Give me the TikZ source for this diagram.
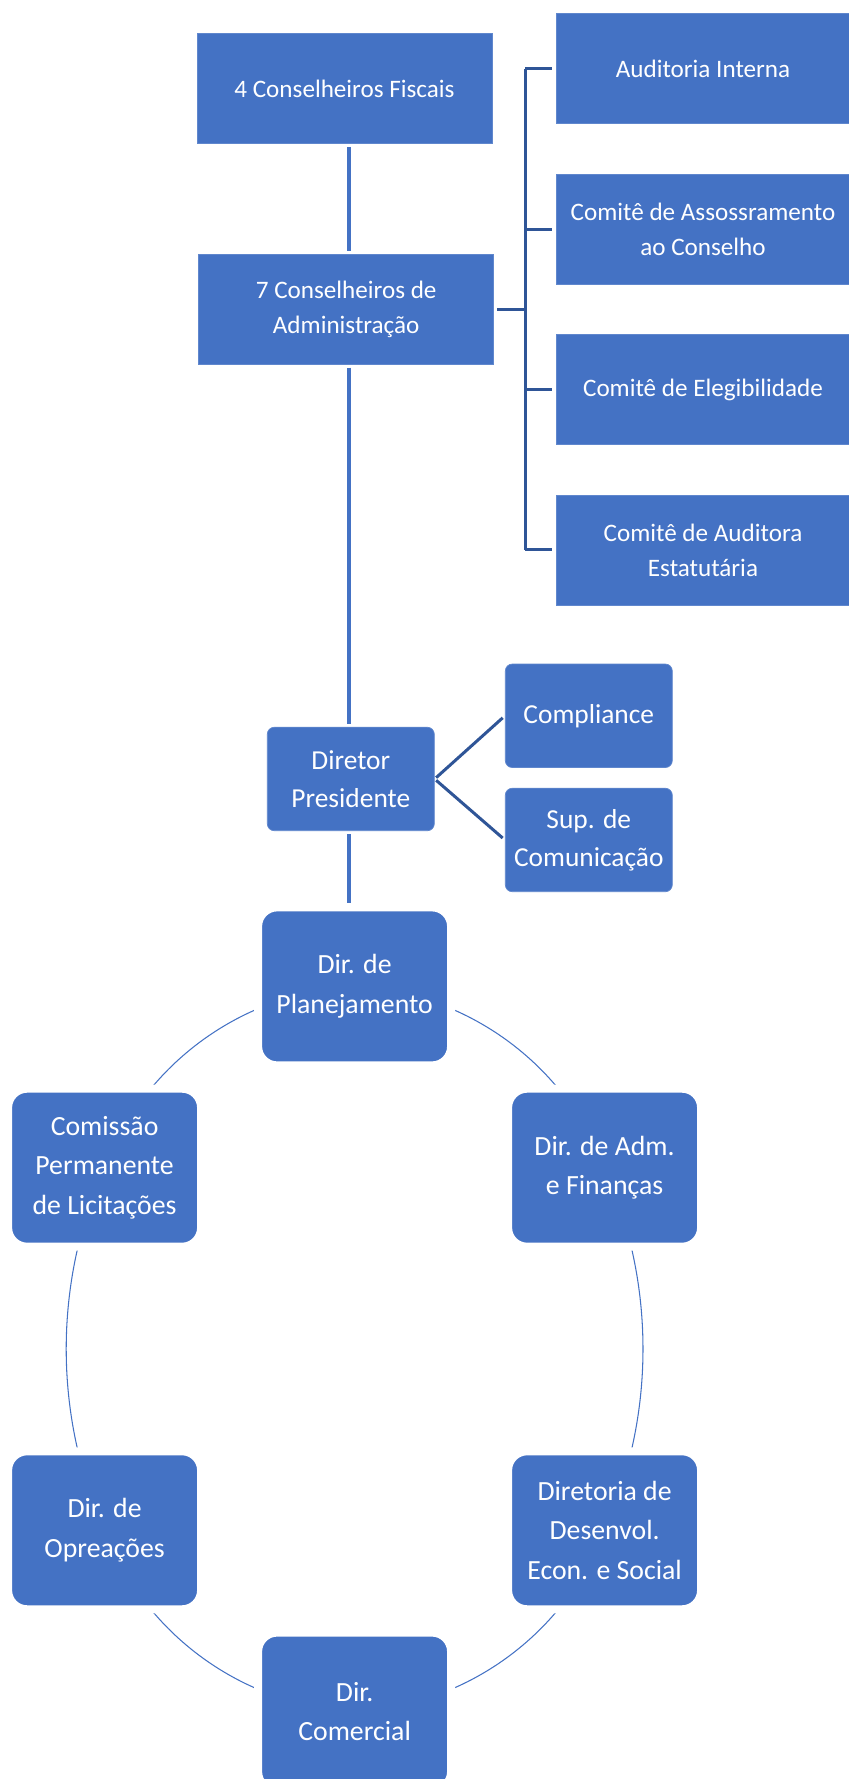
\documentclass[tikz,border=0pt]{standalone}
\usepackage{fontspec}
\setmainfont{Carlito}
\usetikzlibrary{backgrounds}

\definecolor{boxblue}{HTML}{4472C4}
\definecolor{linedark}{HTML}{2F5597}

\tikzset{
  board/.style={draw=boxblue!85!white, line width=0.4pt, fill=boxblue, text=white,
    minimum width=5.9cm, minimum height=2.2cm, inner sep=2pt, align=center,
    font=\fontsize{14.3}{19.9}\selectfont},
  chief/.style={board, rounded corners=0.14cm, minimum width=3.34cm, minimum height=2.07cm,
    font=\fontsize{15.6}{21.6}\selectfont},
  directorate/.style={board, draw=white, line width=0.16cm, rounded corners=0.38cm,
    minimum width=3.86cm, minimum height=3.16cm, font=\fontsize{15.8}{22.4}\selectfont},
  trunk/.style={boxblue, line width=0.08cm, shorten >=0.06cm, shorten <=0.06cm},
  branch/.style={linedark, line width=0.06cm},
  ringline/.style={boxblue, line width=0.6pt}
}

\begin{document}
\begin{tikzpicture}
  \useasboundingbox (0,0) rectangle (16.96,35.58);
  \coordinate (axis) at (6.98,0); % x of the vertical trunk

  % board level
  \node[board] (fiscais) at (6.89,33.81) {4 Conselheiros Fiscais};
  \node[board] (admin) at (6.924,29.394) {7 Conselheiros de\\Administração};

  % committees
  \node[board, minimum width=5.88cm] (auditoria) at (14.06,34.206) {Auditoria Interna};
  \node[board, minimum width=5.88cm] (assess) at (14.06,30.996) {Comitê de Assossramento\\ao Conselho};
  \node[board, minimum width=5.88cm] (eleg) at (14.06,27.786) {Comitê de Elegibilidade};
  \node[board, minimum width=5.88cm] (estat) at (14.06,24.58) {Comitê de Auditora\\Estatutária};

  % president and staff
  \node[chief] (diretor) at (7.016,20.0) {Diretor\\Presidente};
  \node[chief] (compliance) at (11.776,21.264) {Compliance};
  \node[chief] (comunic) at (11.776,18.78) {Sup. de\\Comunicação};

  % directorates on the ring
  \node[directorate] (plan) at (7.092,15.852) {Dir. de\\Planejamento};
  \node[directorate] (adm) at (12.092,12.226) {Dir. de Adm.\\e Finanças};
  \node[directorate] (desenv) at (12.092,4.974) {Diretoria de\\Desenvol.\\Econ. e Social};
  \node[directorate] (comercial) at (7.092,1.348) {Dir.\\Comercial};
  \node[directorate] (operacoes) at (2.092,4.974) {Dir. de\\Opreações};
  \node[directorate] (comissao) at (2.092,12.226) {Comissão\\Permanente\\de Licitações};

  % trunk
  \draw[trunk] (fiscais.south -| axis) -- (admin.north -| axis);
  \draw[trunk] (admin.south -| axis) -- (diretor.north -| axis);
  \draw[trunk, shorten >=0pt] (diretor.south -| axis) -- (plan.north -| axis);

  % committee bracket
  \coordinate (bus) at (10.5,29.394);
  \draw[branch, shorten <=0.06cm] (admin.east) -- (bus);
  \draw[branch] (bus |- auditoria) -- (bus |- estat);
  \draw[branch, shorten >=0.066cm] (bus |- auditoria) -- (auditoria.west);
  \draw[branch, shorten >=0.066cm] (bus |- assess) -- (assess.west);
  \draw[branch, shorten >=0.066cm] (bus |- eleg) -- (eleg.west);
  \draw[branch, shorten >=0.066cm] (bus |- estat) -- (estat.west);

  % staff lines
  \draw[branch, shorten <=0.04cm, shorten >=0.06cm] (diretor.east) -- (compliance.west);
  \draw[branch, shorten <=0.04cm, shorten >=0.06cm] (diretor.east) -- (comunic.west);

  % ring, behind the boxes
  \begin{scope}[on background layer]
    \draw[ringline] (plan.center) to[bend left=33, looseness=0.93] (adm.center);
    \draw[ringline] (adm.center) to[bend left=24, looseness=0.89] (desenv.center);
    \draw[ringline] (desenv.center) to[bend left=33, looseness=0.93] (comercial.center);
    \draw[ringline] (comercial.center) to[bend left=33, looseness=0.93] (operacoes.center);
    \draw[ringline] (operacoes.center) to[bend left=24, looseness=0.89] (comissao.center);
    \draw[ringline] (comissao.center) to[bend left=33, looseness=0.93] (plan.center);
  \end{scope}
\end{tikzpicture}
\end{document}
